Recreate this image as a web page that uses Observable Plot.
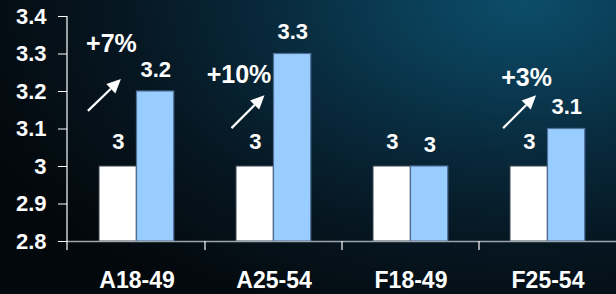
<!DOCTYPE html>
<html>
<head>
<meta charset="utf-8">
<script src="https://cdn.jsdelivr.net/npm/d3@7"></script>
<script src="https://cdn.jsdelivr.net/npm/@observablehq/plot@0.6"></script>
<style>
  html, body { margin: 0; padding: 0; background: #03070b; }
  #chart svg { display: block; }
</style>
</head>
<body>
<div id="chart"></div>
<script>
// ---- data ----
const categories = ["A18-49", "A25-54", "F18-49", "F25-54"];
const valuesBefore = [3, 3, 3, 3];
const valuesAfter = [3.2, 3.3, 3, 3.1];
const yTicks = [2.8, 2.9, 3.0, 3.1, 3.2, 3.3, 3.4];
const yTickLabels = ["2.8", "2.9", "3", "3.1", "3.2", "3.3", "3.4"];
const annCategories = ["A18-49", "A25-54", "F25-54"];
const annLabels = ["+7%", "+10%", "+3%"];
const annLabelY = [3.328, 3.243, 3.235];
const arrowFromY = [3.147, 3.101, 3.101];
const arrowToY = [3.232, 3.189, 3.189];

// ---- layout (pixels, relative to band centre) ----
const annLabelDx = [-25.6, -35, -21.4];
const arrowTailDx = [-48.6, -42, -44.4];
const arrowHeadDx = [-15.6, -9, -11.4];

const W = 616, H = 294, ML = 67, MR = 0, MT = 16, MB = 53;
const bw = (W - ML - MR) / categories.length;

const rows = categories.map((c, i) => ({cat: c, before: valuesBefore[i], after: valuesAfter[i]}));
const ann = annCategories.map((c, i) => ({cat: c, label: annLabels[i], y: annLabelY[i]}));

const font = "Arial, 'Liberation Sans', Helvetica, sans-serif";

const plot = Plot.plot({
  width: W, height: H,
  marginLeft: ML, marginRight: MR, marginTop: MT, marginBottom: MB,
  style: {
    background: "radial-gradient(ellipse 95% 120% at 85% 0%, #0c4d69 0%, #0a3c54 22%, #08283a 45%, #061722 68%, #03080c 100%)",
    color: "white",
    fontFamily: font,
    fontWeight: "bold",
    overflow: "visible"
  },
  x: {domain: categories, padding: 0, label: null},
  y: {domain: [2.8, 3.4], label: null},
  marks: [
    Plot.barY(rows, {x: "cat", y1: 2.8, y2: "before", fill: "white", stroke: "#3a4652", strokeWidth: 1,
      insetLeft: 31, insetRight: bw - 68.5}),
    Plot.barY(rows, {x: "cat", y1: 2.8, y2: "after", fill: "#99ccff", stroke: "#4d6f99", strokeWidth: 1.2,
      insetLeft: 68.5, insetRight: bw - 106}),
    Plot.text(rows, {x: "cat", y: "before", text: d => String(d.before), dx: -18.75, dy: -25,
      fill: "white", fontSize: 22, fontWeight: "bold"}),
    Plot.text(rows, {x: "cat", y: "after", text: d => String(d.after), dx: 18.75, dy: -22,
      fill: "white", fontSize: 22, fontWeight: "bold"}),
    ...ann.map((a, i) => Plot.text([a], {x: "cat", y: "y", text: "label", dx: annLabelDx[i],
      fill: "white", fontSize: 25, fontWeight: "bold"})),
    Plot.ruleY([2.8], {stroke: "#9aa4ad", strokeWidth: 1.6}),
    Plot.axisY({ticks: yTicks, tickFormat: d => yTickLabels[yTicks.indexOf(d)], tickSize: 9, tickPadding: 12,
      fontSize: 22, label: null}),
    Plot.axisX({tickSize: 0, tickPadding: 30, fontSize: 23, label: null})
  ]
});

document.getElementById("chart").appendChild(plot);

// extra axis lines and annotation arrows through the plot's scales
const xs = plot.scale("x");
const ys = plot.scale("y");
const svg = d3.select(plot);
const g = svg.append("g");
const y0 = ys.apply(2.8);
const yTop = ys.apply(3.4);
// y-axis domain line
g.append("line").attr("x1", ML).attr("x2", ML).attr("y1", yTop).attr("y2", y0 + 9)
  .attr("stroke", "white").attr("stroke-width", 1.2);
// category boundary ticks
categories.slice(1).forEach(c => {
  const x = xs.apply(c);
  g.append("line").attr("x1", x).attr("x2", x).attr("y1", y0).attr("y2", y0 + 9)
    .attr("stroke", "white").attr("stroke-width", 1.2);
});
// arrows
annCategories.forEach((c, i) => {
  const cx = xs.apply(c) + xs.bandwidth / 2;
  const x1 = cx + arrowTailDx[i], y1 = ys.apply(arrowFromY[i]);
  const x2 = cx + arrowHeadDx[i], y2 = ys.apply(arrowToY[i]);
  const ang = Math.atan2(y2 - y1, x2 - x1);
  const hl = 14, hw = 6.5;
  const bx = x2 - hl * Math.cos(ang), by = y2 - hl * Math.sin(ang);
  g.append("line").attr("x1", x1).attr("y1", y1).attr("x2", bx).attr("y2", by)
    .attr("stroke", "white").attr("stroke-width", 2.2);
  const px = -Math.sin(ang), py = Math.cos(ang);
  g.append("polygon")
    .attr("points", [[x2, y2], [bx + px * hw, by + py * hw], [bx - px * hw, by - py * hw]].map(p => p.join(",")).join(" "))
    .attr("fill", "white");
});
</script>
</body>
</html>
